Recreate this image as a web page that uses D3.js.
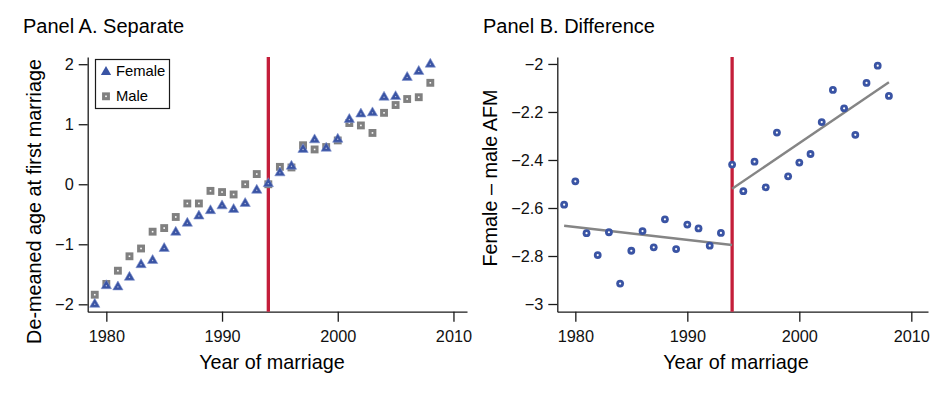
<!DOCTYPE html>
<html>
<head>
<meta charset="utf-8">
<script src="https://cdn.jsdelivr.net/npm/d3@7"></script>
<style>
    body { margin: 0; background: #fff; }
    svg { font-family: 'Liberation Sans', Arial, sans-serif; }
    .axis path, .axis line { stroke: #1a1a1a; stroke-width: 1.3; }
    .axis text { font-size: 16.3px; fill: #111; }
</style>
</head>
<body>
<div id="chart"></div>
<script>
// data
var years = d3.range(1979, 2009);
var female = [-2.00, -1.69, -1.71, -1.55, -1.34, -1.27, -1.07, -0.80, -0.65, -0.53,
              -0.44, -0.36, -0.42, -0.32, -0.10, 0.01, 0.19, 0.30, 0.58, 0.74,
              0.60, 0.75, 1.08, 1.17, 1.19, 1.45, 1.46, 1.78, 1.88, 2.00];
var male = [-1.84, -1.66, -1.44, -1.20, -1.07, -0.79, -0.73, -0.545, -0.32, -0.32,
            -0.11, -0.13, -0.17, 0.00, 0.17, 0.00, 0.29, 0.28, 0.65, 0.58,
            0.62, 0.73, 1.02, 0.98, 0.855, 1.19, 1.32, 1.42, 1.45, 1.69];
var diff = [-2.586, -2.489, -2.705, -2.796, -2.701, -2.915, -2.778, -2.696, -2.764, -2.647,
            -2.771, -2.669, -2.685, -2.757, -2.704, -2.419, -2.530, -2.407, -2.514, -2.286,
            -2.468, -2.411, -2.375, -2.242, -2.108, -2.185, -2.295, -2.079, -2.007, -2.133];
var fitPre = [[1979, -2.674], [1994, -2.754]];
var fitPost = [[1994, -2.520], [2008, -2.076]];
var cutoffYear = 1994;
var xTicks = [1980, 1990, 2000, 2010];
var yTicksA = [-2, -1, 0, 1, 2];
var yTicksB = [-3, -2.8, -2.6, -2.4, -2.2, -2];

var blue = '#3a54a4',
    grey = '#808080',
    red = '#c41e3a';

var svg = d3.select('#chart').append('svg').attr('width', 948).attr('height', 393);

function fmt(d) {
    return String(d).replace('-', '\u2212');
}

function panel(opt) {
    var x = d3.scaleLinear().domain([1978.39, opt.xMax]).range([opt.left, opt.right]);
    var y = d3.scaleLinear().domain(opt.yDomain).range([311.7, 57]);
    var g = svg.append('g');

    g.append('g').attr('class', 'axis')
        .attr('transform', 'translate(0,311.7)')
        .call(d3.axisBottom(x).tickValues(xTicks).tickFormat(d3.format('d')).tickSize(10).tickSizeOuter(0).tickPadding(9));
    g.append('g').attr('class', 'axis')
        .attr('transform', 'translate(' + opt.left + ',0)')
        .call(d3.axisLeft(y).tickValues(opt.yTicks).tickFormat(fmt).tickSize(9).tickSizeOuter(0).tickPadding(5));

    g.append('text').text(opt.title)
        .attr('x', opt.titleX).attr('y', 33)
        .style('font-size', '20px');
    g.append('text').text('Year of marriage')
        .attr('x', opt.xLabelX).attr('y', 369)
        .attr('text-anchor', 'middle')
        .style('font-size', '19.8px');
    g.append('text').text(opt.yLabel)
        .attr('transform', 'translate(' + opt.yLabelX + ',' + opt.yLabelY + ') rotate(-90)')
        .attr('text-anchor', 'middle')
        .style('font-size', '19.8px');

    return {x: x, y: y, g: g};
}

// Panel A
var a = panel({left: 87.7, right: 467, xMax: 2011.17, yDomain: [-2.123, 2.12], yTicks: yTicksA,
    title: 'Panel A. Separate', titleX: 23, xLabelX: 272,
    yLabel: 'De-meaned age at first marriage', yLabelX: 41, yLabelY: 201.5});

a.g.append('line')
    .attr('x1', a.x(cutoffYear)).attr('x2', a.x(cutoffYear))
    .attr('y1', 57).attr('y2', 311.7)
    .attr('stroke', red).attr('stroke-width', 3.3);

var tri = d3.symbol().type(d3.symbolTriangle).size(46);
var sq = d3.symbol().type(d3.symbolSquare).size(62);

a.g.selectAll('.male').data(years).enter().append('g')
    .attr('transform', function (d, i) { return 'translate(' + a.x(d) + ',' + a.y(male[i]) + ')'; })
    .each(function () {
        var s = d3.select(this);
        s.append('path').attr('d', sq()).attr('fill', grey);
        s.append('rect').attr('x', -0.8).attr('y', -0.8).attr('width', 1.6).attr('height', 1.6).attr('fill', '#fff');
    });

a.g.selectAll('.female').data(years).enter().append('g')
    .attr('transform', function (d, i) { return 'translate(' + a.x(d) + ',' + a.y(female[i]) + ')'; })
    .each(function () {
        var s = d3.select(this);
        s.append('path').attr('d', tri()).attr('fill', blue).attr('stroke', '#7d90cc').attr('stroke-width', 0.6);
        s.append('circle').attr('r', 0.7).attr('fill', '#dde').attr('opacity', 0.8);
    });

// legend
var leg = a.g.append('g');
leg.append('rect').attr('x', 95.5).attr('y', 59.5).attr('width', 74).attr('height', 49)
    .attr('fill', '#fff').attr('stroke', '#1a1a1a').attr('stroke-width', 1.2);
leg.append('path').attr('d', tri()).attr('fill', blue).attr('transform', 'translate(106,72)');
leg.append('path').attr('d', sq()).attr('fill', grey).attr('transform', 'translate(106,96.3)');
leg.append('rect').attr('x', 105.2).attr('y', 95.5).attr('width', 1.6).attr('height', 1.6).attr('fill', '#fff');
leg.append('text').text('Female').attr('x', 116).attr('y', 76).style('font-size', '14.8px');
leg.append('text').text('Male').attr('x', 116).attr('y', 101).style('font-size', '14.8px');

// Panel B
var b = panel({left: 557.3, right: 928, xMax: 2011.49, yDomain: [-3.032, -1.971], yTicks: yTicksB,
    title: 'Panel B. Difference', titleX: 483, xLabelX: 736,
    yLabel: 'Female \u2013 male AFM', yLabelX: 497, yLabelY: 178});

b.g.append('line')
    .attr('x1', b.x(cutoffYear)).attr('x2', b.x(cutoffYear))
    .attr('y1', 57).attr('y2', 311.7)
    .attr('stroke', red).attr('stroke-width', 3.3);

var line = d3.line().x(function (d) { return b.x(d[0]); }).y(function (d) { return b.y(d[1]); });
[fitPre, fitPost].forEach(function (f) {
    b.g.append('path').attr('d', line(f))
        .attr('fill', 'none').attr('stroke', '#858585').attr('stroke-width', 2.4);
});

b.g.selectAll('.dot').data(years).enter().append('g')
    .attr('transform', function (d, i) { return 'translate(' + b.x(d) + ',' + b.y(diff[i]) + ')'; })
    .each(function () {
        var s = d3.select(this);
        s.append('circle').attr('r', 3.9).attr('fill', blue);
        s.append('circle').attr('r', 1.1).attr('fill', '#fff');
    });
</script>
</body>
</html>
